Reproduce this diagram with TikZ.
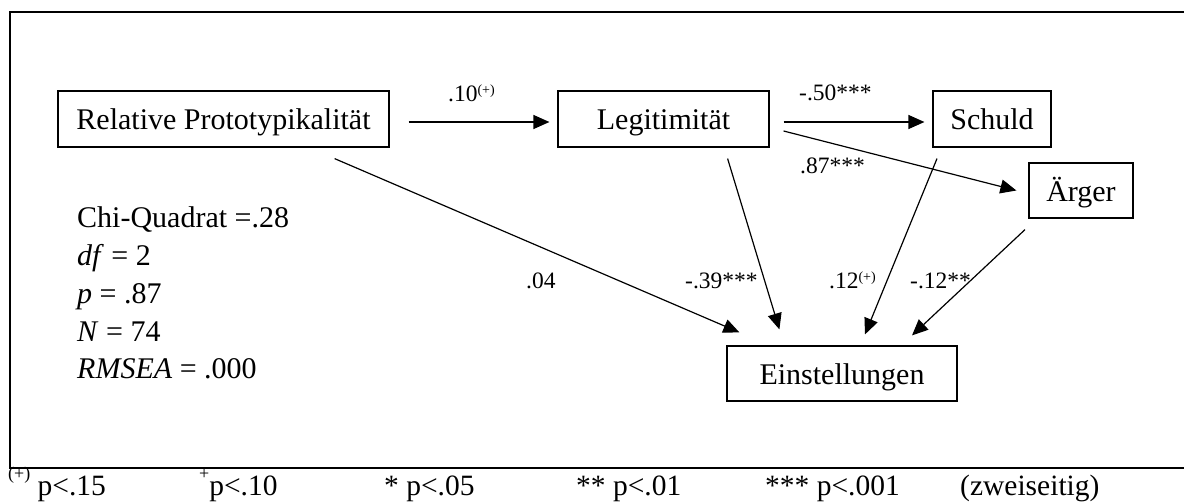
\documentclass[tikz,border=0pt]{standalone}
\usepackage{fontspec}
\setmainfont{Liberation Serif}
\usetikzlibrary{arrows.meta,positioning,calc}
\newcommand{\supmark}[1]{\raisebox{7pt}{\fontsize{14}{14}\selectfont #1}}
\newcommand{\footmark}[1]{\raisebox{16pt}{\fontsize{18}{18}\selectfont #1}}

\begin{document}
\begin{tikzpicture}[x=1pt,y=1pt,
      >={Triangle[length=16pt,width=14pt]},
      var/.style={rectangle,draw,line width=1.2pt,minimum height=56pt,inner sep=0pt,
                  text height=21pt,text depth=0pt,font=\fontsize{30}{36}\selectfont},
      coef/.style={anchor=base west,inner sep=0pt,font=\fontsize{23.5}{28}\selectfont},
      stat/.style={anchor=base west,inner sep=0pt,font=\fontsize{30}{36}\selectfont},
      note/.style={anchor=base west,inner sep=0pt,font=\fontsize{29.5}{36}\selectfont},
      ar/.style={->,line width=1.2pt}]

    \useasboundingbox (0,0) rectangle (1184,-501);

    % ---------- frame (open to the right) ----------
    \draw[line width=2pt] (1184,-12) -- (10,-12) -- (10,-468) -- (1184,-468);

    % ---------- variables ----------
    \node[var,minimum width=331pt] (proto)  at (223.5,-119) {Relative Prototypikalität};
    \node[var,minimum width=211pt] (legit)  at (663.5,-119) {Legitimität};
    \node[var,minimum width=118pt] (schuld) at (992,-119)   {Schuld};
    \node[var,minimum width=104pt,minimum height=55pt] (aerger) at (1081,-190.5) {Ärger};
    \node[var,minimum width=230pt,minimum height=55pt] (einst)  at (842,-373.5)  {Einstellungen};

    % ---------- paths ----------
    \draw[ar] ($(proto.east)+(19,-3)$)       -- ($(legit.west)+(-8,-3)$);
    \draw[ar] ($(legit.east)+(14,-3)$)       -- ($(schuld.west)+(-8,-3)$);
    \draw[ar] ($(legit.east)+(14,-12)$)      -- ($(aerger.west)+(-12,0)$);
    \draw[ar] ($(proto.south east)+(-55,-11)$) -- ($(einst.north west)+(13,13)$);
    \draw[ar] ($(legit.south east)+(-42,-11)$) -- ($(einst.north west)+(53,16)$);
    \draw[ar] ($(schuld.south)+(-55,-11)$)   -- ($(einst.north)+(23,11)$);
    \draw[ar] ($(aerger.south)+(-56,-11)$)   -- ($(einst.north)+(70,10)$);

    % ---------- coefficients ----------
    \node[coef] (c1) at (448,-101) {.10\supmark{(+)}};
    \node[coef] (c2) at (799,-100) {-.50***};
    \node[coef] (c3) at (800,-173) {.87***};
    \node[coef] (c4) at (526,-288) {.04};
    \node[coef] (c5) at (685,-288) {-.39***};
    \node[coef] (c6) at (829,-288) {.12\supmark{(+)}};
    \node[coef] (c7) at (910,-288) {-.12**};

    % ---------- fit indices ----------
    \node[stat] (chi)   at (77,-227) {Chi-Quadrat =.28};
    \node[stat] (df)    at (77,-265) {\textit{df} = 2};
    \node[stat] (pval)  at (77,-303) {\textit{p} = .87};
    \node[stat] (nval)  at (77,-341) {\textit{N} = 74};
    \node[stat] (rmsea) at (77,-378) {\textit{RMSEA} = .000};

    % ---------- significance note ----------
    \node[note] (n1) at (8,-495)   {\footmark{(+)} p<.15};
    \node[note] (n2) at (199,-495) {\footmark{+}p<.10};
    \node[note] (n3) at (384,-495) {* p<.05};
    \node[note] (n4) at (576,-495) {** p<.01};
    \node[note] (n5) at (765,-495) {*** p<.001};
    \node[note] (n6) at (960,-495) {(zweiseitig)};
  \end{tikzpicture}
\end{document}
